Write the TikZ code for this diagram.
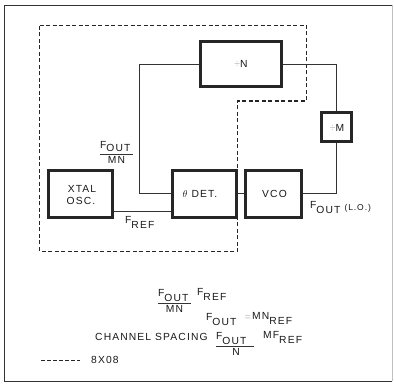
\documentclass[tikz,border=0pt]{standalone}
\usepackage{fontspec}
\setmainfont{Liberation Sans}[LetterSpace=11]
\usetikzlibrary{calc}
\newcommand\lo[1]{\raisebox{-5pt}{#1}}
\newcommand\loa[1]{\raisebox{-3.5pt}{#1}}
\begin{document}
\begin{tikzpicture}[x=1pt,y=-1pt,
  txt/.style={inner sep=0pt, font=\fontsize{10.3}{12}\selectfont, text=black!90},
  blk/.style={draw=black!85, line width=2.7pt, inner sep=0pt},
  wire/.style={line width=0.9pt, draw=black!80},
  dsh/.style={line width=1.3pt, draw=black!85, dash pattern=on 4pt off 2.5pt},
  frame/.style={line width=1.6pt, draw=black!80}]
\useasboundingbox (0,0) rectangle (394,387);
\fill[white] (0,0) rectangle (394,387);
% outer frame
\draw[frame] (392,5.5) -- (4.5,5.5) -- (4.5,381.5) -- (392,381.5);
\draw[line width=0.8pt, draw=black!25] (392,5.5) -- (392,381.5);
% dashed enclosure
\draw[dsh] (39.5,25.5) -- (306.5,25.5) -- (306.5,101) -- (237.5,101) -- (237.5,251.5) -- (39.5,251.5) -- cycle;
% blocks
\node[blk, minimum width=81pt, minimum height=45pt] (N) at (241,64) {};
\node[blk, minimum width=30.5pt, minimum height=29.5pt] (M) at (336.5,127) {};
\node[blk, minimum width=64.5pt, minimum height=47.5pt] (X) at (80.5,194) {};
\node[blk, minimum width=64.5pt, minimum height=47.5pt] (D) at (204.5,194) {};
\node[blk, minimum width=56.5pt, minimum height=47.5pt] (V) at (273.5,194) {};
% block texts
\node[txt, anchor=base] (tN) at (241,67.5) {\textcolor{black!25}{÷}N};
\node[txt, anchor=base] (tM) at (337,132) {\textcolor{black!25}{÷}M};
\node[txt, anchor=base] (tX1) at (82,192.5) {XTAL};
\node[txt, anchor=base] (tX2) at (81,204.5) {OSC.};
\node[txt, anchor=base] (tD) at (200,198) {$\theta$ DET.};
\node[txt, anchor=base] (tV) at (274.5,198) {VCO};
% wires
\coordinate (nl) at (139,193);
\coordinate (fr) at (0,211);
\draw[wire] (N.west) -| (nl) -- (nl -| D.west);
\draw[wire] (X.east |- fr) -- (D.west |- fr);
\draw[wire] (D.east |- nl) -- (V.west |- nl);
\draw[wire] (N.east) -| (M.north);
\draw[wire] (M.south) |- (V.east |- nl);
% loop labels
\node[txt, anchor=base west] (fa) at (100,148.5) {F\loa{OUT}};
\draw[wire] (100,154) -- (133,154);
\node[txt, anchor=base] (fb) at (116.5,164) {MN};
\node[txt, anchor=base west] (fref) at (125,224) {F\lo{REF}};
\node[txt, anchor=base west] (fout) at (310,209) {F\lo{OUT}\hspace{4pt}\raisebox{-1.5pt}{\fontsize{8.5}{10}\selectfont (L.O.)}};
% equations
\node[txt, anchor=base west] (e1a) at (158,297) {F\lo{OUT}};
\draw[wire] (158,303.5) -- (191,303.5);
\node[txt, anchor=base] (e1b) at (174.5,313) {MN};
\node[txt, anchor=base west] (e1c) at (197,296) {F\lo{REF}};
\node[txt, anchor=base west] (e2a) at (206,321) {F\lo{OUT}};
\node[txt, anchor=base] (e2b) at (248,321) {\textcolor{black!25}{=}};
\node[txt, anchor=base west] (e2c) at (252,320) {MN\lo{REF}};
\node[txt, anchor=base west] (e3a) at (95,341) {CHANNEL SPACING};
\node[txt, anchor=base west] (e3b) at (216,339.5) {F\lo{OUT}};
\draw[wire] (216,346.5) -- (254,346.5);
\node[txt, anchor=base] (e3c) at (236,356) {N};
\node[txt, anchor=base west] (e3d) at (263,339) {MF\lo{REF}};
% legend
\draw[dsh, line width=1pt, dash pattern=on 3.5pt off 2.5pt] (41,360.5) -- (80,360.5);
\node[txt, anchor=base west] (lg) at (91,364) {8X08};
\end{tikzpicture}
\end{document}
